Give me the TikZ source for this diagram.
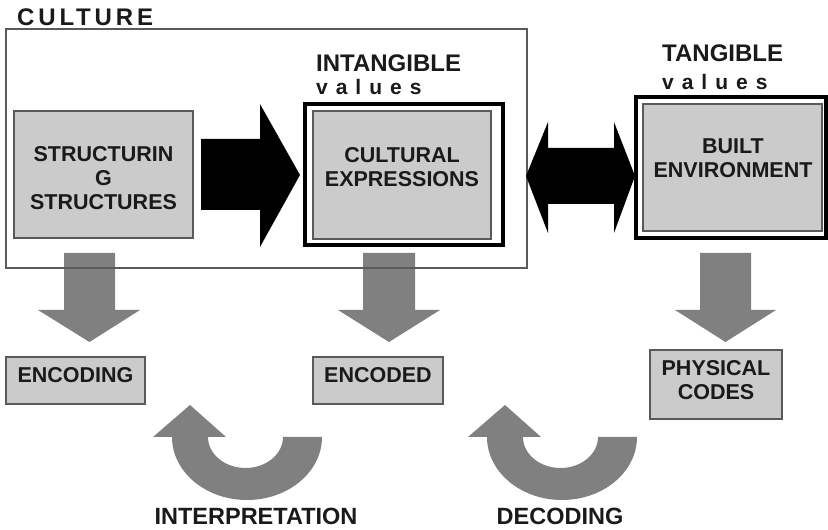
\documentclass[tikz,border=0pt]{standalone}
\usepackage{fontspec}
\setmainfont{Liberation Sans}
\definecolor{boxfill}{HTML}{CBCBCB}
\definecolor{boxline}{HTML}{5A5A5A}
\definecolor{arrowgray}{HTML}{808080}
\definecolor{txt}{HTML}{1A1A1A}
\begin{document}
\begin{tikzpicture}[x=1pt,y=1pt,
  graybox/.style={draw=boxline,line width=1.6pt,fill=boxfill,inner sep=0pt},
  blackframe/.style={draw=black,line width=4pt,inner sep=0pt},
  boxtxt/.style={font=\bfseries\fontsize{21.5}{24}\selectfont,text=txt,align=center,inner sep=0pt},
  headtxt/.style={font=\bfseries\fontsize{24}{26}\selectfont,text=txt,inner sep=0pt,anchor=base west},
  valtxt/.style={font=\bfseries\fontsize{21}{24}\selectfont\addfontfeatures{LetterSpace=38},text=txt,inner sep=0pt,anchor=base west},
  grayarrow/.style={fill=arrowgray,draw=none},
  blackarrow/.style={fill=black,draw=none}]
\useasboundingbox (0,0) rectangle (828,530);
\fill[white] (0,0) rectangle (828,530);

% gray down arrows
\fill[grayarrow] (64,277) -- (115,277) -- (115,220) -- (140,220) -- (89.5,188) -- (38,220) -- (64,220) -- cycle;
\fill[grayarrow] (363,277) -- (415,277) -- (415,220) -- (440,220) -- (389,188) -- (338,220) -- (363,220) -- cycle;
\fill[grayarrow] (700,277) -- (751,277) -- (751,220) -- (776,220) -- (725.5,188) -- (675,220) -- (700,220) -- cycle;

% culture frame
\node[draw=boxline,line width=1.5pt,minimum width=521pt,minimum height=239pt,inner sep=0pt] (culture) at (266.5,381.5) {};
\node[headtxt,font=\bfseries\fontsize{24}{26}\selectfont\addfontfeatures{LetterSpace=16}] (culturelbl) at (17,504) {CULTURE};

% structuring structures
\node[graybox,minimum width=179pt,minimum height=127pt] (struct) at (103.5,355.5) {};
\node[boxtxt,anchor=base] (structtxt) at (103.5,320) {STRUCTURIN\\G\\STRUCTURES};

% cultural expressions
\node[blackframe,minimum width=198pt,minimum height=141pt] (cultframe) at (404,355.5) {};
\node[graybox,minimum width=178pt,minimum height=128pt] (cult) at (402,355) {};
\node[boxtxt,anchor=base] (culttxt) at (402,343) {CULTURAL\\EXPRESSIONS};
\node[headtxt] (intang) at (316,458) {INTANGIBLE};
\node[valtxt] (intangval) at (316,435) {values};

% built environment
\node[blackframe,minimum width=190pt,minimum height=141pt] (builtframe) at (731,362.5) {};
\node[graybox,minimum width=179pt,minimum height=127pt] (built) at (732.5,362.5) {};
\node[boxtxt,anchor=base] (builttxt) at (733,352) {BUILT\\ENVIRONMENT};
\node[headtxt] (tang) at (662,468) {TANGIBLE};
\node[valtxt] (tangval) at (662,440) {values};

% black arrows
\fill[blackarrow] (201,391) -- (260,391) -- (260,426) -- (300,355) -- (260,283) -- (260,320) -- (201,320) -- cycle;
\fill[blackarrow] (526,354) -- (548,408) -- (548,382) -- (614,382) -- (614,408) -- (635,354) -- (614,297) -- (614,326) -- (548,326) -- (548,297) -- cycle;

% bottom boxes
\node[graybox,minimum width=139pt,minimum height=47pt] (encoding) at (75.5,149.5) {};
\node[boxtxt,anchor=base] (encodingtxt) at (75.5,147) {ENCODING};
\node[graybox,minimum width=130pt,minimum height=47pt] (encoded) at (378,149.5) {};
\node[boxtxt,anchor=base] (encodedtxt) at (378,147) {ENCODED};
\node[graybox,minimum width=132pt,minimum height=69pt] (physical) at (716,145.5) {};
\node[boxtxt,anchor=base] (physicaltxt) at (716,130) {PHYSICAL\\CODES};

% u-turn arrows
\fill[grayarrow] (190,125) -- (226,93) -- (208,93) arc[start angle=180,end angle=360,x radius=37.5,y radius=31] -- (322,93) arc[start angle=0,end angle=-180,x radius=75,y radius=63] -- (153,93) -- cycle;
\fill[grayarrow] (505,125) -- (541,93) -- (523,93) arc[start angle=180,end angle=360,x radius=37.5,y radius=31] -- (637,93) arc[start angle=0,end angle=-180,x radius=75,y radius=63] -- (468,93) -- cycle;

\node[boxtxt,font=\bfseries\fontsize{23.5}{26}\selectfont,anchor=base] (interp) at (256,5) {INTERPRETATION};
\node[boxtxt,font=\bfseries\fontsize{23.5}{26}\selectfont,anchor=base] (decod) at (560,5) {DECODING};
\end{tikzpicture}
\end{document}
